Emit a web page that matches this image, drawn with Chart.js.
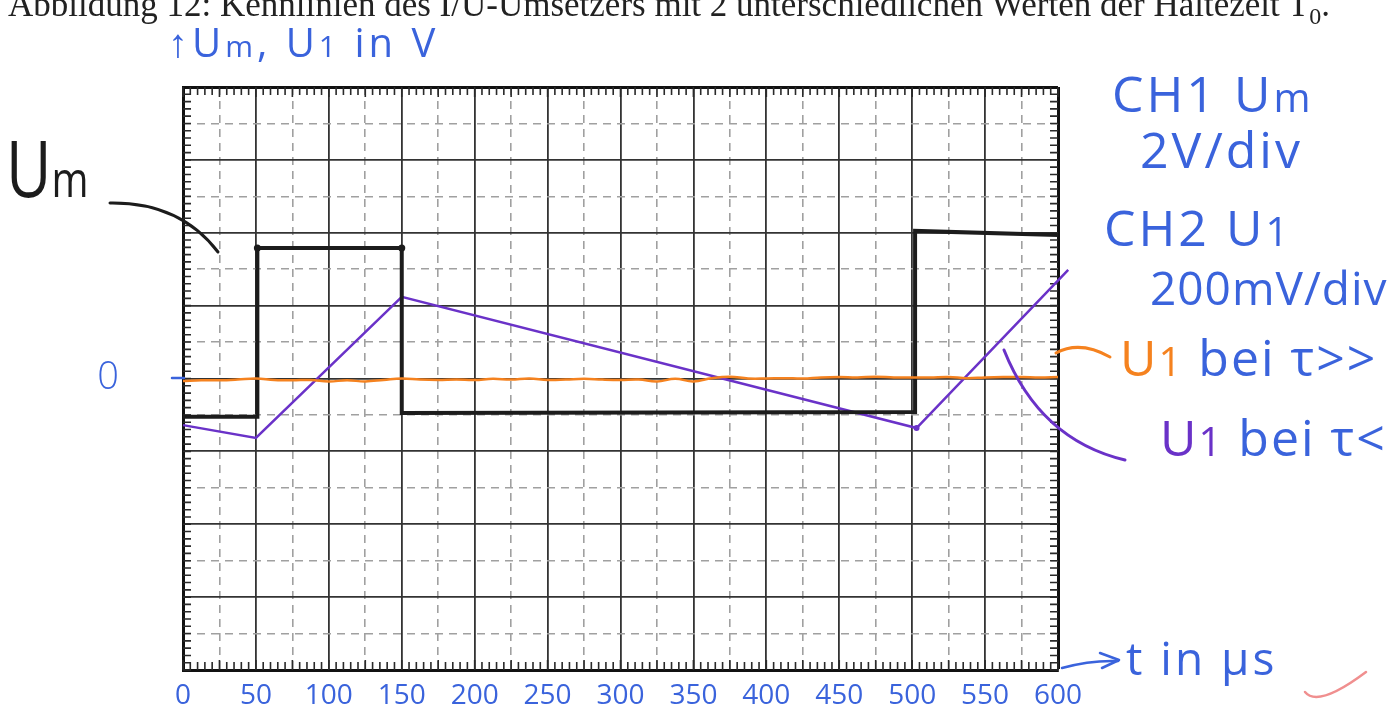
<!DOCTYPE html>
<html>
<head>
<meta charset="utf-8">
<script src="https://cdn.jsdelivr.net/npm/chart.js@4"></script>
<style>
  body { margin: 0; background: #fff; overflow: hidden; }
  #wrap { position: relative; width: 1397px; height: 721px; overflow: hidden; }
  canvas { position: absolute; left: 0; top: 0; }
  .t { position: absolute; line-height: 1; white-space: nowrap; font-family: "Open Sans", sans-serif; font-weight: 400; color: #3a63dc; letter-spacing: 3px; }
  .cap { position: absolute; left: 8px; top: -13px; font-family: "Liberation Serif", serif; font-size: 35px; line-height: 35px; color: #222; white-space: nowrap; }
</style>
</head>
<body>
<div id="wrap">
  <canvas id="myChart" width="1397" height="721"></canvas>
  <div class="cap">Abbildung 12: Kennlinien des I/U-Umsetzers mit 2 unterschiedlichen Werten der Haltezeit T<sub style="font-size:24px">0</sub>.</div>
  <div class="t" style="left:168px;top:22px;font-size:40px;letter-spacing:4px">↑U<span style="font-size:30px">m</span>, U<span style="font-size:30px">1</span> in V</div>
  <div class="t" style="left:6px;top:128px;font-size:78px;color:#1c1c1c;transform:scaleX(0.8);transform-origin:left top;letter-spacing:0">U<span style="font-size:50px">m</span></div>
  <div class="t" style="left:1112px;top:68px;font-size:50px">CH1 U<span style="font-size:40px">m</span></div>
  <div class="t" style="left:1140px;top:124px;font-size:50px">2V/div</div>
  <div class="t" style="left:1104px;top:202px;font-size:50px">CH2 U<span style="font-size:40px">1</span></div>
  <div class="t" style="left:1150px;top:264px;font-size:46px;letter-spacing:1px">200mV/div</div>
  <div class="t" style="left:1120px;top:332px;font-size:50px;letter-spacing:2px"><span style="color:#f5821f">U<span style="font-size:40px">1</span></span> bei τ&gt;&gt;</div>
  <div class="t" style="left:1160px;top:412px;font-size:50px;letter-spacing:2px"><span style="color:#6a32c8">U<span style="font-size:40px">1</span></span> bei τ&lt;</div>
  <div class="t" style="left:1126px;top:634px;font-size:46px">t in µs</div>
</div>
<script>
// time axis (µs) and handwritten tick labels
const xTicks = ['0', '50', '100', '150', '200', '250', '300', '350', '400', '450', '500', '550', '600'];

// CH1 Um in V (2 V/div)
const umT = [0, 51, 51, 150, 150, 502, 502, 600];
const umV = [-1.05, -1.05, 3.58, 3.58, -0.95, -0.92, 4.05, 3.94];

// CH2 U1 in V (200 mV/div), small tau
const u1SmallT = [0, 50, 150, 503, 607];
const u1SmallV = [-0.128, -0.163, 0.224, -0.136, 0.298];

// CH2 U1 in V, large tau
const u1LargeT = [0, 12.5, 25, 37.5, 50, 62.5, 75, 87.5, 100, 112.5, 125, 137.5, 150, 162.5, 175, 187.5, 200,
  212.5, 225, 237.5, 250, 262.5, 275, 287.5, 300, 312.5, 325, 337.5, 350, 362.5, 375, 387.5, 400,
  412.5, 425, 437.5, 450, 462.5, 475, 487.5, 500, 512.5, 525, 537.5, 550, 562.5, 575, 587.5, 600];
const u1LargeV = [-0.007, -0.005, -0.005, -0.003, 0, -0.004, -0.005, -0.004, -0.008, -0.005, -0.008, -0.004, 0,
  -0.003, -0.004, -0.003, -0.004, -0.001, -0.003, 0, -0.004, -0.003, -0.001, -0.003, -0.004, -0.003, -0.008,
  -0.001, -0.008, 0.001, 0.005, 0, 0, 0.001, 0, 0.003, 0.004, 0.003, 0.005, 0.003, 0.003, 0.003, 0.004,
  0.001, 0.003, 0.004, 0.004, 0.003, 0.004];

const blue = '#3a63dc';

function pts(xs, ys) {
  return xs.map((x, i) => ({ x: x, y: ys[i] }));
}

// graticule: inward minor ticks on the frame, plus the hand-drawn pointers
const graticule = {
  id: 'graticule',
  beforeDatasetsDraw(chart) {
    const ctx = chart.ctx;
    const x = chart.scales.x, y = chart.scales.y;
    const a = chart.chartArea;
    ctx.save();
    ctx.strokeStyle = '#2a2a2a';
    ctx.lineWidth = 1.6;
    ctx.beginPath();
    for (let v = 0; v <= 600; v += 5) {
      const px = x.getPixelForValue(v);
      const len = v % 25 === 0 ? 10 : 8;
      ctx.moveTo(px, a.top); ctx.lineTo(px, a.top + len);
      ctx.moveTo(px, a.bottom); ctx.lineTo(px, a.bottom - len);
    }
    for (let v = -8; v <= 8; v += 0.2) {
      const py = y.getPixelForValue(v);
      ctx.moveTo(a.left, py); ctx.lineTo(a.left + 8, py);
      ctx.moveTo(a.right, py); ctx.lineTo(a.right - 8, py);
    }
    ctx.stroke();
    ctx.restore();
  },
  afterDraw(chart) {
    const ctx = chart.ctx;
    ctx.save();
    ctx.lineCap = 'round';
    ctx.lineJoin = 'round';
    ctx.lineWidth = 3;
    ctx.strokeStyle = '#1c1c1c';
    ctx.beginPath(); ctx.moveTo(110, 203); ctx.quadraticCurveTo(180, 202, 218, 252); ctx.stroke();
    ctx.strokeStyle = '#f5821f';
    ctx.beginPath(); ctx.moveTo(1056, 353); ctx.quadraticCurveTo(1080, 340, 1110, 357); ctx.stroke();
    ctx.strokeStyle = '#6a32c8';
    ctx.beginPath(); ctx.moveTo(1004, 350); ctx.quadraticCurveTo(1040, 440, 1125, 460); ctx.stroke();
    ctx.strokeStyle = blue;
    ctx.lineWidth = 2.5;
    ctx.beginPath(); ctx.moveTo(172, 378); ctx.lineTo(184, 378); ctx.stroke();
    ctx.beginPath(); ctx.moveTo(1062, 668); ctx.quadraticCurveTo(1090, 660, 1118, 661); ctx.stroke();
    ctx.beginPath(); ctx.moveTo(1100, 653); ctx.lineTo(1119, 660); ctx.lineTo(1102, 668); ctx.stroke();
    ctx.strokeStyle = '#f08f8f';
    ctx.beginPath(); ctx.moveTo(1305, 692); ctx.quadraticCurveTo(1318, 708, 1366, 672); ctx.stroke();
    ctx.restore();
  }
};

function createChart() {
  const ctx = document.getElementById('myChart');
  new Chart(ctx, {
    type: 'line',
    data: {
      datasets: [{
        label: 'U1 bei τ>>',
        data: pts(u1LargeT, u1LargeV),
        yAxisID: 'y2',
        borderColor: '#f5821f',
        borderWidth: 2.5,
        pointRadius: 0,
        tension: 0.4
      }, {
        label: 'Um',
        data: pts(umT, umV),
        yAxisID: 'y',
        borderColor: '#1c1c1c',
        backgroundColor: '#1c1c1c',
        borderWidth: 4,
        pointRadius: [0, 0, 3.5, 3.5, 0, 0, 0, 0],
        pointBorderWidth: 0
      }, {
        label: 'U1 bei τ<',
        data: pts(u1SmallT, u1SmallV),
        yAxisID: 'y2',
        borderColor: '#6a32c8',
        backgroundColor: '#6a32c8',
        borderWidth: 2.5,
        pointRadius: [0, 0, 0, 3, 0],
        pointBorderWidth: 0
      }]
    },
    options: {
      responsive: false,
      animation: false,
      clip: false,
      layout: { padding: { left: 0, top: 87, right: 339, bottom: 0 } },
      plugins: { legend: { display: false }, tooltip: { enabled: false } },
      scales: {
        x: {
          type: 'linear',
          min: 0,
          max: 600,
          afterFit: (s) => { s.height = 51; s.paddingLeft = 0; s.paddingRight = 0; },
          ticks: {
            stepSize: 50,
            autoSkip: false,
            maxRotation: 0,
            padding: 9,
            color: blue,
            font: { family: 'Open Sans', size: 28, weight: 400 },
            callback: (v, i) => xTicks[i]
          },
          grid: {
            drawTicks: false,
            color: (c) => c.tick && c.tick.value === 600 ? '#111' : '#333',
            lineWidth: (c) => c.tick && c.tick.value === 600 ? 3 : 1.8
          },
          border: { color: '#111', width: 3 }
        },
        x2: {
          type: 'linear',
          position: 'top',
          min: 0,
          max: 600,
          afterFit: (s) => { s.height = 0; s.paddingLeft = 0; s.paddingRight = 0; },
          ticks: { display: false, stepSize: 25 },
          grid: {
            drawTicks: false,
            color: (c) => c.tick && c.tick.value % 50 !== 0 ? '#a0a0a0' : 'rgba(0,0,0,0)',
            lineWidth: 1.6
          },
          border: { display: false, dash: [8, 6] }
        },
        y: {
          min: -8,
          max: 8,
          afterFit: (s) => { s.width = 183; s.paddingTop = 0; s.paddingBottom = 0; },
          ticks: {
            stepSize: 2,
            padding: 64,
            color: blue,
            font: { family: 'Open Sans', size: 38, weight: 300 },
            callback: (v) => v === 0 ? '0' : ''
          },
          grid: {
            drawTicks: false,
            color: (c) => c.tick && c.tick.value === 8 ? '#111' : '#333',
            lineWidth: (c) => c.tick && c.tick.value === 8 ? 3 : 1.8
          },
          border: { color: '#111', width: 3 }
        },
        y3: {
          position: 'left',
          min: -8,
          max: 8,
          afterFit: (s) => { s.width = 0; s.paddingTop = 0; s.paddingBottom = 0; },
          ticks: { display: false, stepSize: 1 },
          grid: {
            drawTicks: false,
            color: (c) => c.tick && Math.abs(c.tick.value % 2) === 1 ? '#a0a0a0' : 'rgba(0,0,0,0)',
            lineWidth: 1.6
          },
          border: { display: false, dash: [8, 6] }
        },
        y2: {
          display: false,
          min: -0.8,
          max: 0.8
        }
      }
    },
    plugins: [graticule]
  });
}
createChart();
</script>
</body>
</html>
